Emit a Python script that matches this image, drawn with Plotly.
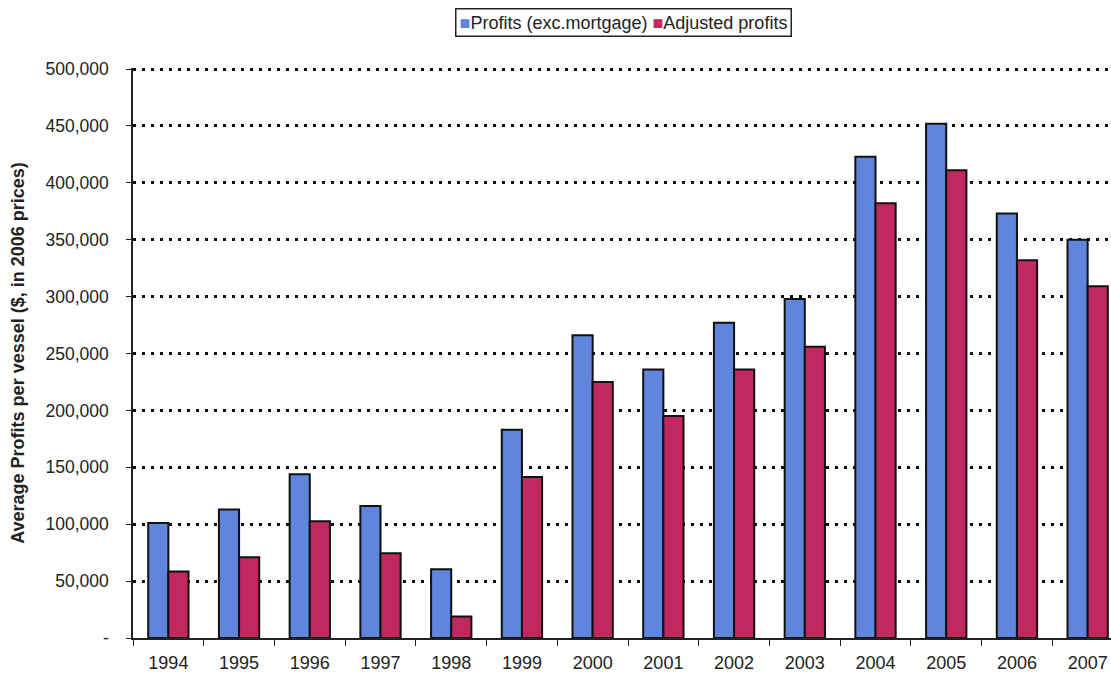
import plotly.graph_objects as go

# Average profits per vessel, in 2006 prices
years = ["1994", "1995", "1996", "1997", "1998", "1999", "2000",
         "2001", "2002", "2003", "2004", "2005", "2006", "2007"]
profits_exc_mortgage = [101000, 113000, 144000, 116000, 60500, 183000, 266000,
                        236000, 277000, 298000, 423000, 452000, 373000, 350000]
adjusted_profits = [58500, 71000, 102500, 74500, 19000, 141500, 225000,
                    195000, 236000, 256000, 382000, 411000, 332000, 309000]

y_ticks = [0, 50000, 100000, 150000, 200000, 250000, 300000, 350000, 400000, 450000, 500000]
y_tick_labels = ["-", "50,000", "100,000", "150,000", "200,000", "250,000",
                 "300,000", "350,000", "400,000", "450,000", "500,000"]

series_names = ["Profits (exc.mortgage)", "Adjusted profits"]

FONT = "Arial, Liberation Sans, sans-serif"
TEXT = "#222222"
BLUE = "#5f85dc"
CRIMSON = "#c0285f"

fig = go.Figure()
fig.add_trace(go.Bar(
    x=years, y=profits_exc_mortgage, name=series_names[0],
    marker=dict(color=BLUE, line=dict(color="#111111", width=2)),
))
fig.add_trace(go.Bar(
    x=years, y=adjusted_profits, name=series_names[1],
    marker=dict(color=CRIMSON, line=dict(color="#111111", width=2)),
))

# compact boxed key above the plot
key_text = (
    f'<span style="color:{BLUE}">■</span>{series_names[0]} '
    f'<span style="color:{CRIMSON}">■</span>{series_names[1]}'
)
fig.add_annotation(
    text=key_text, xref="paper", yref="paper", x=0.502, y=1.079,
    xanchor="center", yanchor="middle", showarrow=False,
    font=dict(family=FONT, size=18, color=TEXT),
    bordercolor="#222222", borderwidth=1.5, borderpad=3, bgcolor="white",
)

fig.update_layout(
    width=1111, height=675,
    margin=dict(l=133, r=0, t=68, b=37),
    paper_bgcolor="white", plot_bgcolor="white",
    barmode="group", bargap=0.43, bargroupgap=0,
    font=dict(family=FONT, size=18, color=TEXT),
    showlegend=False,
)

fig.update_xaxes(
    type="category", range=[-0.5, 13.33],
    showline=True, linecolor="#222222", linewidth=1.5,
    ticks="outside", tickson="boundaries", ticklen=6, tickcolor="#222222",
    ticklabelstandoff=8,
    showgrid=False, tickfont=dict(family=FONT, size=18, color=TEXT),
)

fig.update_yaxes(
    range=[0, 500900], tickvals=y_ticks, ticktext=y_tick_labels,
    showline=True, linecolor="#222222", linewidth=1.5,
    ticks="outside", ticklen=5, tickcolor="#222222", ticklabelstandoff=14,
    showgrid=True, gridcolor="#111111", gridwidth=2.5, griddash="3px,6px",
    zeroline=False,
    tickfont=dict(family=FONT, size=17.5, color=TEXT),
    title=dict(text="<b>Average Profits per vessel ($, in 2006 prices)</b>",
               font=dict(family=FONT, size=18, color=TEXT), standoff=16),
)

fig.write_html("out.html")
